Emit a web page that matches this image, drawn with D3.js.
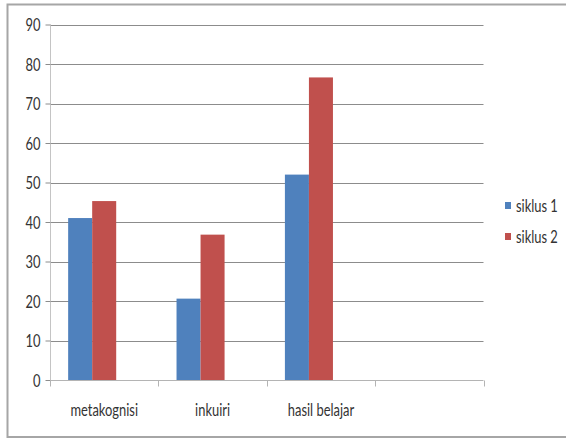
<!DOCTYPE html>
<html>
<head>
<meta charset="utf-8">
<script src="https://cdn.jsdelivr.net/npm/d3@7"></script>
<style>
  html, body { margin: 0; padding: 0; background: #fff; }
  svg { display: block; }
  text { font-family: Lato, "Open Sans", sans-serif; fill: #333; }
</style>
</head>
<body>
<svg id="chart" width="566" height="439"></svg>
<script>
const categories = ["metakognisi", "inkuiri", "hasil belajar", ""];
const seriesNames = ["siklus 1", "siklus 2"];
const siklus1 = [41, 20.6, 52];
const siklus2 = [45.3, 36.8, 76.6];
const yTicks = [0, 10, 20, 30, 40, 50, 60, 70, 80, 90];
const colors = ["#4F81BD", "#C0504D"];

const svg = d3.select("#chart");
const squeeze = 0.76;
const fontSize = 17;

// outer frame
svg.append("rect")
  .attr("x", 7.5).attr("y", 4.5)
  .attr("width", 580).attr("height", 432.5)
  .attr("fill", "none").attr("stroke", "#a6a6a6").attr("stroke-width", 2);

const pLeft = 50, pRight = 483.5, pTop = 24.5, pBottom = 380;

const y = d3.scaleLinear().domain([0, 90]).range([pBottom, pTop]);
const x0 = d3.scaleBand().domain(categories).range([pLeft, pRight]).padding(0);
const bw = x0.bandwidth();
const slots = ["siklus 1", "siklus 2", "_"];
const x1 = d3.scaleBand().domain(slots).range([bw * 0.1675, bw * (1 - 0.1675)]).padding(0);

// gridlines
svg.append("g").selectAll("line").data(yTicks.filter(d => d > 0)).join("line")
  .attr("x1", pLeft).attr("x2", pRight)
  .attr("y1", d => Math.round(y(d)) + 0.5).attr("y2", d => Math.round(y(d)) + 0.5)
  .attr("stroke", "#8c8c8c").attr("stroke-width", 1);

// bars
const data = categories.slice(0, 3).map((c, i) => ({ c, vals: [siklus1[i], siklus2[i]] }));
const groups = svg.append("g").selectAll("g").data(data).join("g")
  .attr("transform", d => `translate(${x0(d.c)},0)`);
groups.selectAll("rect").data(d => d.vals.map((v, j) => ({ v, s: seriesNames[j], j }))).join("rect")
  .attr("x", d => x1(d.s))
  .attr("width", x1.bandwidth())
  .attr("y", d => y(d.v))
  .attr("height", d => y(0) - y(d.v))
  .attr("fill", d => colors[d.j]);

// y axis
const yAxis = d3.axisLeft(y).tickValues(yTicks).tickSize(5).tickPadding(0);
const gy = svg.append("g").attr("transform", `translate(${pLeft + 0.5},0)`).call(yAxis);
gy.attr("font-family", null).attr("font-size", null);
gy.select(".domain").attr("stroke", "#c4c4c4").attr("d", `M0,${pTop}V${pBottom}`);
gy.selectAll(".tick line").attr("stroke", "#8c8c8c");
gy.selectAll(".tick text")
  .attr("x", null).attr("dy", null)
  .attr("transform", `translate(-10,6) scale(${squeeze},1)`)
  .attr("font-size", fontSize).attr("fill", "#333");

// x axis
const gx = svg.append("g").attr("transform", `translate(0,${Math.round(pBottom) + 0.5})`);
gx.append("line").attr("x1", pLeft).attr("x2", pRight).attr("stroke", "#b4b4b4");
const bounds = categories.map(c => x0(c)).concat([pRight]);
gx.selectAll("line.tk").data(bounds).join("line").attr("class", "tk")
  .attr("x1", d => Math.round(d) + 0.5).attr("x2", d => Math.round(d) + 0.5)
  .attr("y1", 0).attr("y2", 6).attr("stroke", "#b4b4b4");
gx.selectAll("text").data(categories).join("text")
  .attr("transform", d => `translate(${x0(d) + bw / 2},35.5) scale(${squeeze},1)`)
  .attr("text-anchor", "middle").attr("font-size", fontSize)
  .text(d => d);

// legend
const lg = svg.append("g").selectAll("g").data(seriesNames).join("g")
  .attr("transform", (d, i) => `translate(505,${202 + i * 31})`);
lg.append("rect").attr("width", 6).attr("height", 7).attr("fill", (d, i) => colors[i]);
lg.append("text").attr("transform", `translate(11,10) scale(${squeeze},1)`)
  .attr("font-size", fontSize).text(d => d);
</script>
</body>
</html>
